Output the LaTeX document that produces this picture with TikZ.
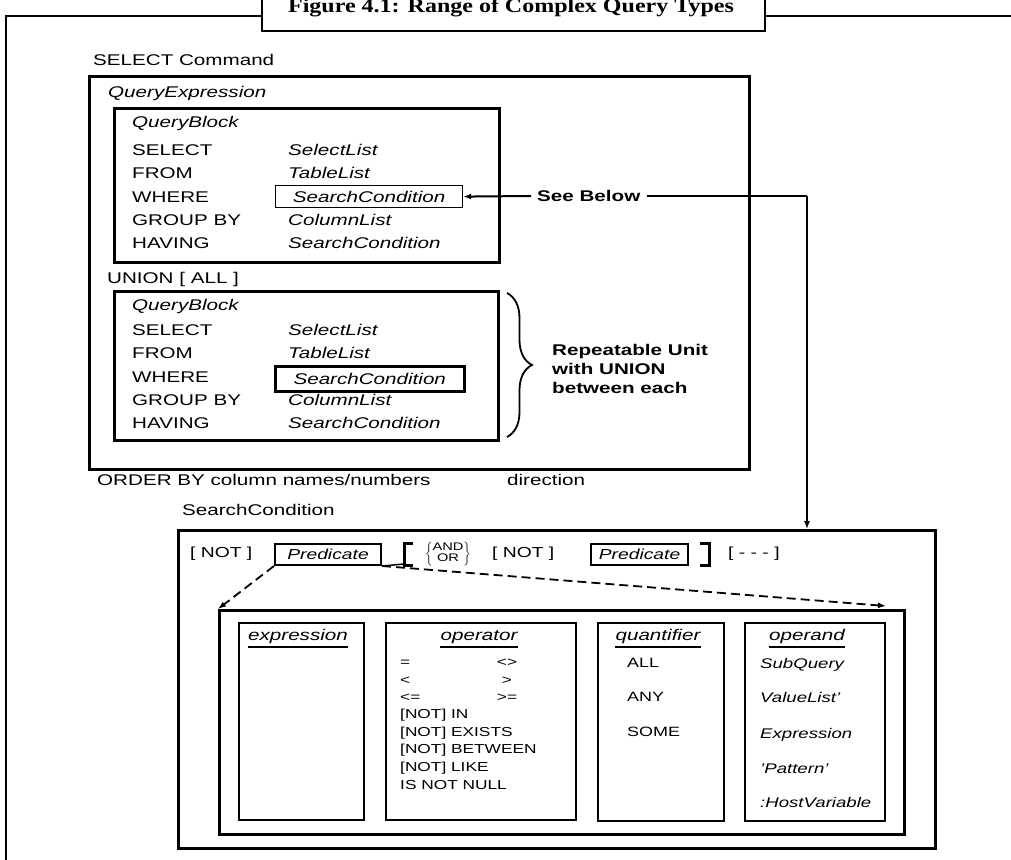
\documentclass[tikz,border=0pt]{standalone}
\usepackage{fontspec}
\setmainfont{Liberation Sans}[FakeStretch=1.33]
\newfontfamily\titlefont{Liberation Serif}[FakeStretch=1.2]
\usetikzlibrary{arrows.meta,decorations.pathreplacing}
\newcommand\setfs[1]{\fontsize{#1}{#1}\selectfont}
\begin{document}
\begin{tikzpicture}[x=1pt,y=-1pt,
  txt/.style={anchor=base west, inner sep=0pt, font=\setfs{15.5}},
  itx/.style={anchor=base west, inner sep=0pt, font=\setfs{15.5}\itshape},
  bfx/.style={anchor=base west, inner sep=0pt, font=\setfs{15.5}\bfseries},
  opx/.style={anchor=base west, inner sep=0pt, font=\setfs{13}},
  opr/.style={anchor=base, inner sep=0pt, font=\setfs{13}},
  qx/.style={anchor=base west, inner sep=0pt, font=\setfs{13.5}},
  odx/.style={anchor=base west, inner sep=0pt, font=\setfs{14}\itshape},
  hdr/.style={anchor=base, inner sep=0pt, font=\setfs{15.5}\itshape},
  bigbox/.style={draw, line width=2.5pt, anchor=north west, inner sep=0pt},
  colbox/.style={draw, line width=2pt, anchor=north west, inner sep=0pt},
  predbox/.style={draw, line width=2pt, anchor=north west, inner sep=0pt, font=\setfs{14.5}\itshape},
  uline/.style={line width=1.5pt},
  arr/.style={-{Latex[length=8pt,width=6pt]}},
]
\useasboundingbox[fill=white] (0,0) rectangle (1011,859);
% frame and title
\draw[line width=2pt] (6,870) -- (6,16) -- (261,16);
\draw[line width=2pt] (764,16) -- (1020,16);
\node[draw, fill=white, line width=2.2pt, minimum width=503pt, minimum height=50pt, anchor=south west, inner sep=0pt] (tbox) at (261,32) {};
\node[anchor=base, inner sep=0pt, font=\titlefont\bfseries\setfs{20}] (title) at (511,13) {Figure 4.1: Range of Complex Query Types};

% SELECT command
\node[txt] (selcmd) at (93,66) {SELECT Command};
\node[bigbox, minimum width=660pt, minimum height=393pt] (qe) at (88,75) {};
\node[itx] (qelbl) at (108,97.5) {QueryExpression};

% query block 1
\node[bigbox, minimum width=385pt, minimum height=154pt] (qb1) at (113,107) {};
\node[itx] (qb1t) at (132,127.5) {QueryBlock};
\node[txt] (qb1a) at (132,155.5) {SELECT};
\node[txt] (qb1b) at (132,178.5) {FROM};
\node[txt] (qb1c) at (132,202.5) {WHERE};
\node[txt] (qb1d) at (132,225.5) {GROUP BY};
\node[txt] (qb1e) at (132,248.5) {HAVING};
\node[itx] (qb1f) at (288,155.5) {SelectList};
\node[itx] (qb1g) at (288,178.5) {TableList};
\node[draw, line width=1.2pt, minimum width=187pt, minimum height=22pt, anchor=north west, inner sep=0pt, font=\setfs{15.5}\itshape] (sc1) at (275,185) {SearchCondition};
\node[itx] (qb1h) at (288,225.5) {ColumnList};
\node[itx] (qb1i) at (288,248.5) {SearchCondition};

% see below
\node[anchor=west, inner ysep=0pt, inner xsep=6pt, font=\setfs{15.5}\bfseries] (see) at (531,196) {See Below};
\draw[line width=2pt, arr] (see.west) -- (sc1.east);
\coordinate (turn) at (807,196);

\node[txt] (union) at (107,283.5) {UNION [ ALL ]};

% query block 2
\node[bigbox, minimum width=384pt, minimum height=149pt] (qb2) at (113,290) {};
\node[itx] (qb2t) at (132,310.5) {QueryBlock};
\node[txt] (qb2a) at (132,335.5) {SELECT};
\node[txt] (qb2b) at (132,358.8) {FROM};
\node[txt] (qb2c) at (132,382.5) {WHERE};
\node[txt] (qb2d) at (132,405.5) {GROUP BY};
\node[txt] (qb2e) at (132,428.5) {HAVING};
\node[itx] (qb2f) at (288,335.5) {SelectList};
\node[itx] (qb2g) at (288,358.8) {TableList};
\node[draw, line width=2.5pt, minimum width=189pt, minimum height=25pt, anchor=north west, inner sep=0pt, font=\setfs{15.5}\itshape] (sc2) at (274,365) {SearchCondition};
\node[itx] (qb2h) at (288,405.5) {ColumnList};
\node[itx] (qb2i) at (288,428.5) {SearchCondition};

% brace and repeatable unit
\draw[line width=1.8pt, decorate, decoration={brace, amplitude=25pt, aspect=0.5}] (507,293) -- (507,437);
\node[bfx] (rep1) at (552,355.5) {Repeatable Unit};
\node[bfx] (rep2) at (552,374.5) {with UNION};
\node[bfx] (rep3) at (552,393.5) {between each};

% order by
\node[txt] (order) at (97,485.5) {ORDER BY column names/numbers};
\node[txt] (dir) at (507,485.5) {direction};

% search condition
\node[txt] (sclbl) at (182,515.5) {SearchCondition};
\node[bigbox, minimum width=757pt, minimum height=318pt] (scb) at (177,529) {};
\draw[line width=1.5pt] (see.east) -- (turn);
\draw[line width=1.3pt, arr] (turn) -- (turn |- scb.north);

\node[anchor=base west, inner sep=0pt, font=\setfs{14.5}] (not1) at (190,557) {[ NOT ]};
\node[predbox, minimum width=106pt, minimum height=21pt] (pred1) at (274,543) {Predicate};
\coordinate (lbtop) at (413,543);
\coordinate (lbbot) at (413,565);
\draw[line width=3pt] (lbtop) -- (404,543) -- (404,565) -- (lbbot);
\draw[line width=1.5pt] (pred1.south east) -- (404,564);
\node[inner sep=0pt, font=\setfs{11}] (andor) at (448,554) {$\left\{\mbox{\begin{tabular}{@{}c@{}}AND\\[0pt]OR\end{tabular}}\right\}$};
\node[anchor=base west, inner sep=0pt, font=\setfs{14.5}] (not2) at (492,557) {[ NOT ]};
\node[predbox, minimum width=97pt, minimum height=21pt] (pred2) at (590,543) {Predicate};
\draw[line width=3pt] (700,543) -- (709,543) -- (709,565) -- (700,565);
\node[anchor=base west, inner sep=0pt, font=\setfs{14.5}] (more) at (728,557) {[ - - - ]};

% inner box and columns
\node[bigbox, minimum width=685pt, minimum height=224pt] (inner) at (218,609) {};
\coordinate (tipR) at (886,606);
\draw[dashed, line width=1.8pt, dash pattern=on 9pt off 5pt, arr] (pred1.south west) -- (inner.north west);
\draw[dashed, line width=1.8pt, dash pattern=on 9pt off 5pt, arr] (pred1.south east) -- (tipR);

\node[colbox, minimum width=125pt, minimum height=197pt] (exbox) at (238,622) {};
\node[colbox, minimum width=190pt, minimum height=197pt] (opbox) at (385,622) {};
\node[colbox, minimum width=126pt, minimum height=198pt] (qtbox) at (597,622) {};
\node[colbox, minimum width=140pt, minimum height=198pt] (odbox) at (744,622) {};

\node[hdr] (hex) at (298,640.5) {expression};
\node[hdr] (hop) at (479,640.5) {operator};
\node[hdr] (hqt) at (658,640.5) {quantifier};
\node[hdr] (hod) at (807,640.5) {operand};
\foreach \h in {hex,hop,hqt,hod}
  \draw[uline] ([yshift=-6.5pt]\h.base west) -- ([yshift=-6.5pt]\h.base east);

% operators
\node[opx] (o1) at (400,666.6) {=};
\node[opr] (o1r) at (507,666.6) {<>};
\node[opx] (o2) at (400,684.6) {<};
\node[opr] (o2r) at (507,684.6) {>};
\node[opx] (o3) at (400,701.6) {<=};
\node[opr] (o3r) at (507,701.6) {>=};
\node[opx] (o4) at (400,718.6) {[NOT] IN};
\node[opx] (o5) at (400,736.6) {[NOT] EXISTS};
\node[opx] (o6) at (400,753.6) {[NOT] BETWEEN};
\node[opx] (o7) at (400,771.6) {[NOT] LIKE};
\node[opx] (o8) at (400,789.6) {IS NOT NULL};

% quantifiers
\node[qx] (q1) at (627,667.8) {ALL};
\node[qx] (q2) at (627,701.8) {ANY};
\node[qx] (q3) at (627,736.8) {SOME};

% operands
\node[odx] (d1) at (760,668) {SubQuery};
\node[odx] (d2) at (760,702) {ValueList'};
\node[odx] (d3) at (760,738) {Expression};
\node[odx] (d4) at (760,773) {'Pattern'};
\node[odx] (d5) at (760,807) {:HostVariable};
\end{tikzpicture}
\end{document}
